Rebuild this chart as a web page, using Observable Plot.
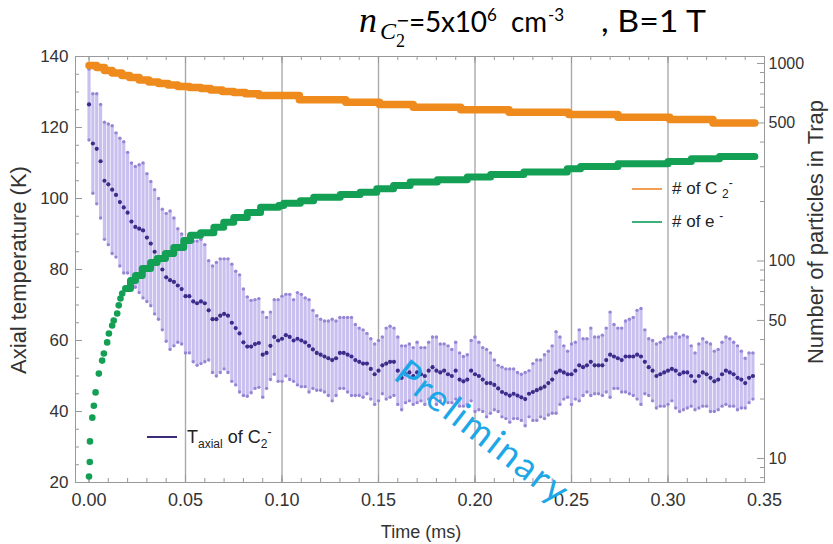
<!DOCTYPE html>
<html>
<head>
<meta charset="utf-8">
<script src="https://cdn.jsdelivr.net/npm/d3@7"></script>
<script src="https://cdn.jsdelivr.net/npm/@observablehq/plot@0.6"></script>
<style>
  body { margin: 0; background: #fff; }
  #chart { position: relative; width: 833px; height: 544px; overflow: hidden;
           font-family: "Liberation Sans", Arial, sans-serif; color: #333; }
  #chart svg { position: absolute; left: 0; top: 0; }
  .lbl { position: absolute; white-space: nowrap; font-size: 18px; color: #333; }
  .rot { transform: translate(-50%, -50%) rotate(-90deg); font-size: 22px; }
  .legend { position: absolute; white-space: nowrap; font-size: 17px; color: #222; line-height: 1; }
  .legend .sw { display: inline-block; width: 30px; height: 0; border-top: 2px solid; vertical-align: middle; margin-right: 10px; position: relative; top: -1px; }
  .legend sub, .legend sup { font-size: 12px; line-height: 0; }
  #prelim { position: absolute; left: 484px; top: 431px; white-space: nowrap;
            transform: translate(-50%, -50%) rotate(37.7deg);
            font-family: Lato, "Open Sans", sans-serif; font-size: 37px; letter-spacing: 2.5px; color: #1ea7e6; }
</style>
</head>
<body>
<div id="chart"></div>
<script>
// Axial temperature of C2- ions: mean and error half-width, sampled every 0.002 ms from t = 0
const tStep = 0.002;
const tempMean = [
  126.5, 115.5, 114, 110.5, 105, 104, 102.5, 101, 99, 97.5,
  96, 93.5, 92, 91.5, 91, 89, 87.3, 85, 83, 80,
  77.8, 77, 76.5, 75.5, 74.5, 72.5, 72.5, 71, 70.5, 71,
  70.5, 68.5, 66, 66, 67, 67.5, 67, 65, 63.5, 62,
  59.5, 58.3, 58.3, 59, 59.3, 56, 56.5, 58.5, 61, 60,
  60.5, 61.5, 61, 60, 60.5, 60, 59.5, 58.5, 57.5, 56.5,
  56, 55.5, 55, 54.5, 55, 56.5, 56.5, 56, 55.5, 54.5,
  54, 53.5, 53.5, 52, 50.5, 51.5, 53, 53.5, 54, 54,
  51.5, 49.5, 50.5, 51, 50, 51, 50.5, 50, 51.5, 52.5,
  51.5, 51, 51.5, 50.5, 50, 51.5, 49, 48.5, 49, 51.5,
  50.5, 50, 49, 48, 48, 47.5, 46.5, 45.5, 45, 44.5,
  45, 44.5, 44, 43.5, 45, 45.5, 46, 46.5, 47, 48,
  49, 51, 51.5, 51, 50.5, 50.5, 51.5, 53, 52.5, 53,
  54, 53, 53, 53, 54.5, 56, 55.5, 55, 54.5, 55.5,
  55.5, 55.5, 56, 55.5, 54, 52.5, 51.5, 50, 50.5, 51,
  51.5, 52, 51.5, 50.5, 51, 51, 50, 48.5, 50, 51,
  50.5, 49.5, 48.5, 49, 50.5, 51.5, 51, 50.5, 49.5, 49,
  48, 49.5, 50
];
const tempErr = [
  10, 14, 15.5, 16, 16.5, 17, 18, 17.5, 18, 18.5,
  17, 16.5, 17, 18, 19, 18, 17.5, 17.5, 17, 17,
  18, 19.5, 18, 16, 15.5, 16, 16, 17, 17.5, 17.5,
  16.5, 14, 15, 16, 16, 15.5, 16, 16.5, 16, 16.5,
  15, 14, 13, 12.5, 12.5, 12, 10, 9.5, 10.5, 11.5,
  12, 11.5, 12, 11.5, 13, 13, 12.5, 13, 11, 10.5,
  10, 10, 10.5, 11.5, 10.5, 10, 10, 10.5, 11, 10,
  9.5, 9.5, 8.5, 8.5, 8.5, 8.5, 8, 10, 10, 9.5,
  9.5, 9, 8, 8, 8, 8.5, 7.5, 8, 8, 8.5,
  9.5, 8, 7.5, 8, 7.5, 8, 7.5, 7, 7, 8.5,
  10.5, 9.5, 9, 9.5, 8.5, 7, 6.5, 7, 7, 7.5,
  7, 6.5, 6.5, 7.5, 6.5, 8, 8.5, 8, 9, 9,
  9.5, 11.5, 9.5, 7.5, 6.5, 8.5, 8, 10, 8, 7.5,
  9.5, 8, 8, 8.5, 9, 12, 9, 8.5, 9, 10,
  10.5, 11, 12.5, 13.5, 9, 8, 8.5, 9, 9, 9.5,
  9.5, 9, 10.5, 10.5, 10.5, 10, 8.5, 8, 9, 9.5,
  9, 9.5, 8.5, 8.5, 9, 9.5, 9.5, 9, 9, 8,
  7, 7, 6.5
];

// Number of C2- ions in the trap (step changes: time in ms, count)
const ionT = [0, 0.004, 0.008, 0.012, 0.017, 0.021, 0.026, 0.031, 0.036, 0.041, 0.046, 0.052, 0.058, 0.063,
              0.069, 0.075, 0.081, 0.088, 0.109, 0.133, 0.1505, 0.168, 0.1926, 0.2176, 0.2486, 0.2741, 0.3009, 0.3233, 0.345];
const ionN = [977, 954, 922, 895, 869, 849, 825, 806, 792, 778, 765, 756, 747, 734,
              721, 712, 703, 689, 655, 637, 620, 601, 583, 567, 552, 535, 521, 500, 500];

// Number of electrons: sparse early samples, then the dense step record
const elecDotT = [0, 0.0004, 0.0005, 0.0017, 0.0025, 0.0034, 0.0051, 0.0068, 0.0077, 0.0094, 0.0103, 0.012, 0.0128, 0.0146, 0.0154, 0.0163, 0.0172];
const elecDotN = [8.1, 9.6, 12.2, 16.1, 18.5, 21.6, 26.9, 31.3, 34, 38.7, 42.9, 47.1, 50, 54.2, 59.6, 64.6, 68.5];
const elecT = [0.0189, 0.0215, 0.0241, 0.0276, 0.0319, 0.0353, 0.0396, 0.0439, 0.0491, 0.0526, 0.0578, 0.0647, 0.0698, 0.075,
               0.082, 0.0889, 0.0983, 0.1009, 0.1095, 0.1164, 0.1302, 0.1405, 0.1491, 0.1578, 0.1664, 0.1805, 0.196, 0.2081,
               0.2253, 0.2478, 0.2547, 0.2741, 0.3, 0.3121, 0.3267, 0.345];
const elecN = [72.6, 79.6, 84.5, 91.6, 98.3, 103, 109, 117, 127, 135, 139, 148, 157, 166,
               176, 187, 191, 196, 202, 210, 217, 223, 232, 241, 251, 258, 266, 274,
               282, 293, 301, 311, 319, 329, 338, 338];

// Axis ticks
const xTicks = [0, 0.05, 0.10, 0.15, 0.20, 0.25, 0.30, 0.35];
const xGrid = [0.05, 0.10, 0.15, 0.20, 0.25, 0.30];
const yTicks = [20, 40, 60, 80, 100, 120, 140];
const nTicks = [10, 50, 100, 500, 1000];
const nMinor = [8, 9, 20, 30, 40, 60, 70, 80, 90, 200, 300, 400, 600, 700, 800, 900];

const W = 833, H = 544;
const M = {marginLeft: 75, marginRight: 69, marginTop: 56, marginBottom: 62};
const frameW = W - M.marginLeft - M.marginRight;
const frameH = H - M.marginTop - M.marginBottom;
const xDomain = [-0.007, 0.35];
const axisColor = "#999";
const font = {background: "transparent", fontFamily: "'Liberation Sans', Arial, sans-serif", fontSize: "18px", color: "#333"};

const temp = tempMean.map((m, i) => ({t: i * tStep, m, lo: m - tempErr[i], hi: m + tempErr[i]}));
const ions = ionT.map((t, i) => ({t, n: ionN[i]}));
const elecDots = elecDotT.map((t, i) => ({t, n: elecDotN[i]}));
const elec = elecT.map((t, i) => ({t, n: elecN[i]}));

const xMinor = d3.range(0, 0.3501, 0.01);
const yMinor = d3.range(20, 140.1, 5);

// Bottom layer: temperature on the linear left axis
const plotT = Plot.plot({
  width: W, height: H, ...M, style: font,
  x: {domain: xDomain, label: null},
  y: {domain: [20, 140], label: null},
  marks: [
    Plot.ruleX(xGrid, {x: d => d, stroke: "#aaa", strokeWidth: 1.4}),
    Plot.ruleX(temp, {x: "t", y1: "lo", y2: "hi", stroke: "#c9c0f0", strokeWidth: 3.2}),
    Plot.dot(temp, {x: "t", y: "lo", r: 1.7, fill: "#9585d4"}),
    Plot.dot(temp, {x: "t", y: "hi", r: 1.7, fill: "#9585d4"}),
    Plot.dot(temp, {x: "t", y: "m", r: 2.1, fill: "#3b2b8a"}),
    Plot.frame({stroke: axisColor}),
    Plot.ruleX(xMinor, {x: d => d, insetTop: frameH - 4, stroke: axisColor}),
    Plot.ruleX(xMinor, {x: d => d, insetBottom: frameH - 4, stroke: axisColor}),
    Plot.ruleX(xTicks, {x: d => d, insetTop: frameH - 7, stroke: axisColor}),
    Plot.ruleX(xTicks, {x: d => d, insetBottom: frameH - 7, stroke: axisColor}),
    Plot.ruleY(yMinor, {y: d => d, insetRight: frameW - 4, stroke: axisColor}),
    Plot.ruleY(yTicks, {y: d => d, insetRight: frameW - 7, stroke: axisColor}),
    Plot.axisX({ticks: xTicks, tickFormat: d3.format(".2f"), tickSize: 0, tickPadding: 11, label: null}),
    Plot.axisY({ticks: yTicks, tickSize: 0, tickPadding: 7, label: null, fontSize: 17})
  ]
});

// Top layer: particle numbers on the logarithmic right axis
const plotN = Plot.plot({
  width: W, height: H, ...M, style: font,
  x: {domain: xDomain, axis: null},
  y: {type: "log", domain: [7.557, 1084.8], axis: null},
  marks: [
    Plot.line(elec, {x: "t", y: "n", curve: "step-after", stroke: "#13a055", strokeWidth: 7,
                     strokeLinecap: "round", strokeLinejoin: "round"}),
    Plot.dot(elecDots, {x: "t", y: "n", r: 3.3, fill: "#13a055"}),
    Plot.line(ions, {x: "t", y: "n", curve: "step-after", stroke: "#ef8a1c", strokeWidth: 7.5,
                     strokeLinecap: "round", strokeLinejoin: "round"}),
    Plot.ruleY(nMinor, {y: d => d, insetLeft: frameW - 4, stroke: axisColor}),
    Plot.ruleY(nTicks, {y: d => d, insetLeft: frameW - 7, stroke: axisColor}),
    Plot.text(nTicks, {y: d => d, text: d => String(d), frameAnchor: "right", textAnchor: "start", dx: 4, fontSize: 16})
  ]
});

const chart = document.getElementById("chart");
chart.append(plotT, plotN);

// Heading with the density symbol, then axis titles, legends and the watermark
const ns = "http://www.w3.org/2000/svg";
const head = document.createElementNS(ns, "svg");
head.setAttribute("width", W);
head.setAttribute("height", 60);
head.innerHTML = `
  <g fill="#000">
    <text x="359" y="32" font-family="Liberation Serif, serif" font-style="italic" font-size="36">n</text>
    <text x="380" y="39" font-family="Liberation Serif, serif" font-style="italic" font-size="24">C</text>
    <text x="396" y="47" font-family="Liberation Serif, serif" font-size="18">2</text>
    <text x="396" y="26" font-family="DejaVu Sans, sans-serif" font-size="16">−</text>
    <text x="409" y="32" font-family="Lato, sans-serif" font-size="28" textLength="78" lengthAdjust="spacing">=5x10</text>
    <text x="487" y="21" font-family="Lato, sans-serif" font-size="17">6</text>
    <text x="511" y="32" font-family="Lato, sans-serif" font-size="28" textLength="36" lengthAdjust="spacingAndGlyphs">cm</text>
    <text x="548" y="21" font-family="Lato, sans-serif" font-size="17">-3</text>
    <text x="601" y="32" font-family="Lato, sans-serif" font-size="30" textLength="105" lengthAdjust="spacingAndGlyphs">, B=1 T</text>
  </g>`;
chart.append(head);

chart.insertAdjacentHTML("beforeend", `
  <div class="lbl rot" style="left:19px; top:270px;">Axial temperature (K)</div>
  <div class="lbl rot" style="left:816px; top:232px;">Number of particles in Trap</div>
  <div class="lbl" style="left:421px; top:532px; transform: translate(-50%, -50%);">Time (ms)</div>
  <div class="legend" style="left:632px; top:180px;"><span class="sw" style="border-color:#f0a050"></span># of C <sub>2</sub><sup>-</sup></div>
  <div class="legend" style="left:632px; top:213px;"><span class="sw" style="border-color:#3fb07a"></span># of e <sup>-</sup></div>
  <div class="legend" style="left:147px; top:428px; font-size:18px;"><span class="sw" style="border-color:#3b2b7a"></span>T<sub>axial</sub> of C<sub>2</sub><sup>-</sup></div>
  <div id="prelim">Preliminary</div>
`);
</script>
</body>
</html>
